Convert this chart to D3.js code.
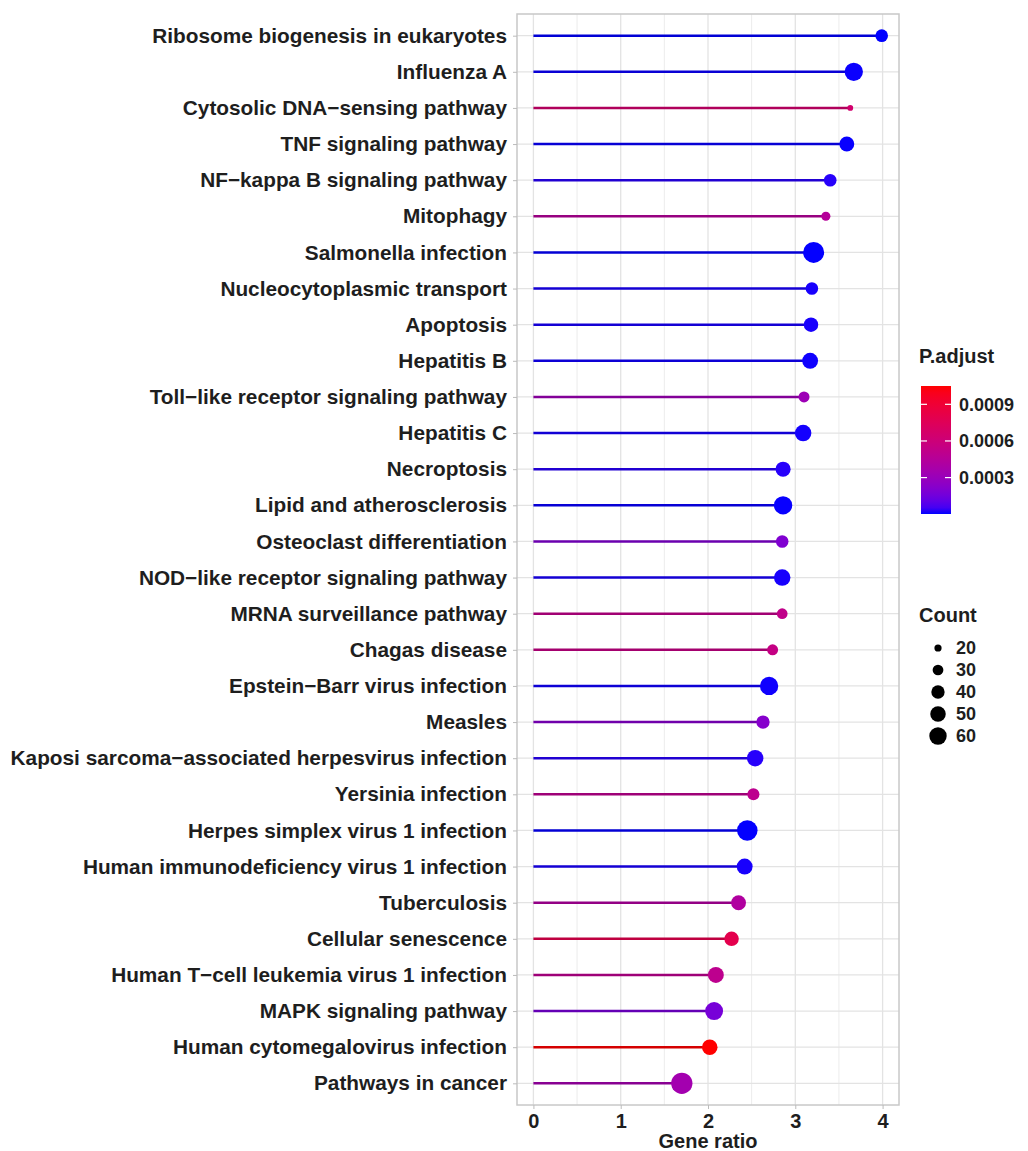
<!DOCTYPE html>
<html><head><meta charset="utf-8">
<script src="https://cdn.jsdelivr.net/npm/d3@7"></script>
<style>body{margin:0;background:#fff}svg{display:block}text{font-family:"Liberation Sans",Arial,sans-serif;font-weight:bold}</style>
</head><body><svg id="c" width="1028" height="1151"></svg>
<script>
const terms = ["Ribosome biogenesis in eukaryotes","Influenza A","Cytosolic DNA\u2212sensing pathway","TNF signaling pathway","NF\u2212kappa B signaling pathway","Mitophagy","Salmonella infection","Nucleocytoplasmic transport","Apoptosis","Hepatitis B","Toll\u2212like receptor signaling pathway","Hepatitis C","Necroptosis","Lipid and atherosclerosis","Osteoclast differentiation","NOD\u2212like receptor signaling pathway","MRNA surveillance pathway","Chagas disease","Epstein\u2212Barr virus infection","Measles","Kaposi sarcoma\u2212associated herpesvirus infection","Yersinia infection","Herpes simplex virus 1 infection","Human immunodeficiency virus 1 infection","Tuberculosis","Cellular senescence","Human T\u2212cell leukemia virus 1 infection","MAPK signaling pathway","Human cytomegalovirus infection","Pathways in cancer"];
const geneRatio = [3.99,3.67,3.63,3.59,3.40,3.35,3.21,3.19,3.18,3.17,3.10,3.09,2.86,2.86,2.85,2.85,2.85,2.74,2.70,2.63,2.54,2.52,2.45,2.42,2.35,2.27,2.09,2.07,2.02,1.70];
const counts = [37,65,17,47,37,25,82,37,45,52,31,55,48,65,37,55,30,31,65,40,55,35,79,52,47,45,52,63,50,84];
const padj = [0.000002,0.000005,0.00065,0.000004,0.00002,0.00045,0.000003,0.00001,0.00001,0.000006,0.00032,0.000008,0.00002,0.000004,0.00020,0.00001,0.00052,0.00055,0.000006,0.00022,0.00002,0.00050,0.000003,0.00001,0.00042,0.00080,0.00050,0.00017,0.00105,0.00035];
const xTicks = [0,1,2,3,4];
const xMinor = [0.5,1.5,2.5,3.5];
const colorTicks = [0.0003,0.0006,0.0009];
const sizeBreaks = [20,30,40,50,60];

const svg = d3.select("#c");
const P = {l:517, r:899, t:14, b:1105};
const x = d3.scaleLinear().domain([-0.188,4.188]).range([P.l,P.r]);
const y = d3.scalePoint().domain(terms).range([P.t,P.b]).padding(0.6);
const col = d3.scaleLinear().domain([d3.min(padj), d3.max(padj)]).range(["#0000ff","#ff0000"]).interpolate(d3.interpolateLab);
const area = d3.scaleLinear().domain([11.7, 82]).range([0, 110.4]);
const rad = c => Math.sqrt(area(c));

// grid
const g = svg.append("g");
g.selectAll(".mn").data(xMinor).join("line").attr("x1",d=>x(d)).attr("x2",d=>x(d)).attr("y1",P.t).attr("y2",P.b).attr("stroke","#ececec").attr("stroke-width",1);
g.selectAll(".mj").data(xTicks).join("line").attr("x1",d=>x(d)).attr("x2",d=>x(d)).attr("y1",P.t).attr("y2",P.b).attr("stroke","#e3e3e3").attr("stroke-width",1.3);
g.selectAll(".hy").data(terms).join("line").attr("x1",P.l).attr("x2",P.r).attr("y1",d=>y(d)).attr("y2",d=>y(d)).attr("stroke","#e3e3e3").attr("stroke-width",1.3);

// segments & points
const data = terms.map((t,i)=>({t, v:geneRatio[i], c:counts[i], p:padj[i]}));
svg.append("g").selectAll("line").data(data).join("line")
  .attr("x1",x(0)).attr("x2",d=>x(d.v)).attr("y1",d=>y(d.t)).attr("y2",d=>y(d.t))
  .attr("stroke",d=>d3.color(col(d.p)).darker(0.5)).attr("stroke-width",2.6);
svg.append("g").selectAll("circle").data(data).join("circle")
  .attr("cx",d=>x(d.v)).attr("cy",d=>y(d.t)).attr("r",d=>rad(d.c)).attr("fill",d=>col(d.p));

// panel border
svg.append("rect").attr("x",P.l).attr("y",P.t).attr("width",P.r-P.l).attr("height",P.b-P.t).attr("fill","none").attr("stroke","#c8c8c8").attr("stroke-width",1.5);

// y axis
const ya = svg.append("g").attr("transform",`translate(${P.l},0)`).call(d3.axisLeft(y).tickSize(4).tickPadding(6));
ya.select(".domain").remove();
ya.selectAll(".tick line").attr("stroke","#bbbbbb");
ya.selectAll(".tick text").attr("font-size",20.8).attr("fill","#1e1e1e").attr("font-family","Liberation Sans").attr("font-weight","bold");

// x axis
const xa = svg.append("g").attr("transform",`translate(0,${P.b})`).call(d3.axisBottom(x).tickValues(xTicks).tickFormat(d3.format("d")).tickSize(4).tickPadding(5));
xa.select(".domain").remove();
xa.selectAll(".tick line").attr("stroke","#bbbbbb");
xa.selectAll(".tick text").attr("font-size",20).attr("fill","#1e1e1e").attr("font-family","Liberation Sans").attr("font-weight","bold");
svg.append("text").attr("x",(P.l+P.r)/2).attr("y",1148).attr("text-anchor","middle").attr("font-size",20).attr("fill","#1e1e1e").text("Gene ratio");

// colour legend
const L = {x:921, w:30, top:386, bot:514};
svg.append("text").attr("x",919).attr("y",363).attr("font-size",20).attr("fill","#1e1e1e").text("P.adjust");
const defs = svg.append("defs");
const lg = defs.append("linearGradient").attr("id","gr").attr("x1",0).attr("x2",0).attr("y1",1).attr("y2",0);
d3.range(0,1.0001,0.05).forEach(f=>lg.append("stop").attr("offset",f).attr("stop-color",col(col.domain()[0]+f*(col.domain()[1]-col.domain()[0]))));
svg.append("rect").attr("x",L.x).attr("y",L.top).attr("width",L.w).attr("height",L.bot-L.top).attr("fill","url(#gr)");
const cy = d3.scaleLinear().domain(col.domain()).range([L.bot,L.top]);
svg.selectAll(".ct").data(colorTicks).join("g").each(function(d){
  const s=d3.select(this);
  s.append("line").attr("x1",L.x).attr("x2",L.x+6).attr("y1",cy(d)).attr("y2",cy(d)).attr("stroke","#fff").attr("stroke-width",1.2);
  s.append("line").attr("x1",L.x+L.w-6).attr("x2",L.x+L.w).attr("y1",cy(d)).attr("y2",cy(d)).attr("stroke","#fff").attr("stroke-width",1.2);
  s.append("text").attr("x",L.x+L.w+8).attr("y",cy(d)).attr("dy","0.35em").attr("font-size",18).attr("fill","#1e1e1e").text(d3.format(".4f")(d));
});

// size legend
svg.append("text").attr("x",919).attr("y",622).attr("font-size",20).attr("fill","#1e1e1e").text("Count");
const sy = d3.scalePoint().domain(sizeBreaks).range([648,736]);
svg.selectAll(".sz").data(sizeBreaks).join("g").each(function(d){
  const s=d3.select(this);
  s.append("circle").attr("cx",938).attr("cy",sy(d)).attr("r",rad(d)).attr("fill","#000");
  s.append("text").attr("x",956).attr("y",sy(d)).attr("dy","0.35em").attr("font-size",18).attr("fill","#1e1e1e").text(d);
});
</script></body></html>
